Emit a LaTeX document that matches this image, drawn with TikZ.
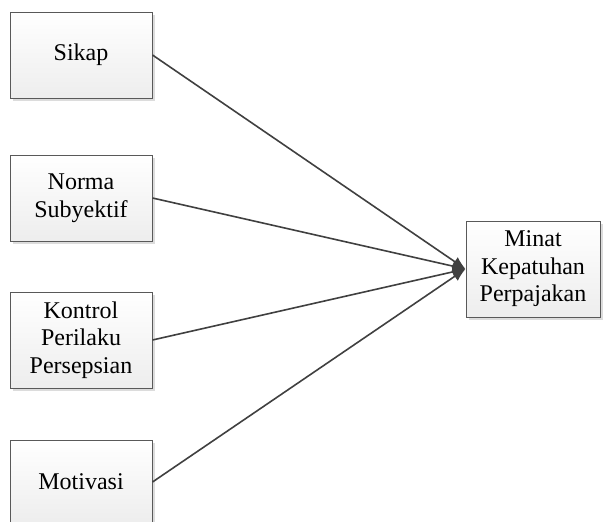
\documentclass[tikz,border=0pt]{standalone}
\usepackage{fontspec}
\setmainfont{Liberation Serif}
\usetikzlibrary{arrows.meta,shadows}
\definecolor{edgegray}{HTML}{595959}
\definecolor{linegray}{HTML}{404040}
\definecolor{shadowgray}{HTML}{DCDCDC}
\begin{document}
\begin{tikzpicture}[x=1pt,y=-1pt,
  box/.style={draw=edgegray, line width=1pt, rectangle, top color=white, bottom color=black!7,
    align=center, inner sep=0pt, minimum width=142pt,
    font=\fontsize{24}{27.6}\selectfont,
    drop shadow={shadow xshift=3pt, shadow yshift=-3pt, fill=shadowgray, opacity=1}},
  conn/.style={draw=linegray, line width=1.6pt, -{Latex[length=13pt,width=11pt]}}]
\useasboundingbox (0,0) rectangle (608,522);
\node[box, minimum height=86pt] (sikap) at (81,55) {Sikap};
\node[box, minimum height=86pt] (norma) at (81,198) {Norma\\Subyektif};
\node[box, minimum height=96pt] (kontrol) at (81,340) {Kontrol\\Perilaku\\Persepsian};
\node[box, minimum height=84pt] (motivasi) at (81,482) {Motivasi};
\node[box, minimum width=134pt, minimum height=96pt] (minat) at (533,269) {Minat\\Kepatuhan\\Perpajakan};
\draw[conn] (sikap.east) -- (minat.west);
\draw[conn] (norma.east) -- (minat.west);
\draw[conn] (kontrol.east) -- (minat.west);
\draw[conn] (motivasi.east) -- (minat.west);
\end{tikzpicture}
\end{document}
